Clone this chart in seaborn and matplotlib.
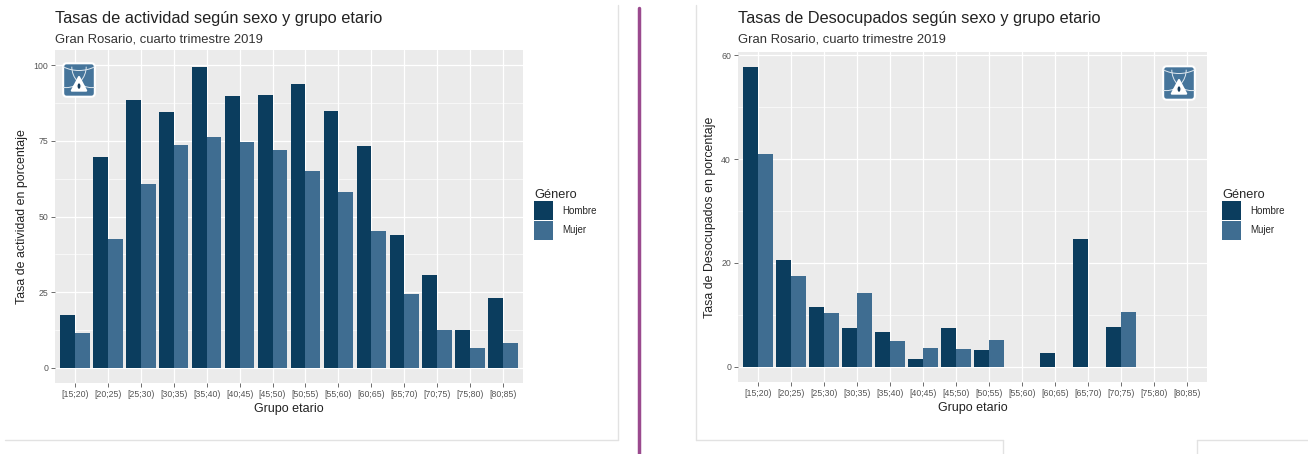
import numpy as np
import pandas as pd
import matplotlib.pyplot as plt
import seaborn as sns
from matplotlib.patches import Patch, FancyBboxPatch, Polygon, Ellipse, Arc
from matplotlib.lines import Line2D

# data
grupos = ['[15;20)', '[20;25)', '[25;30)', '[30;35)', '[35;40)', '[40;45)', '[45;50)',
          '[50;55)', '[55;60)', '[60;65)', '[65;70)', '[70;75)', '[75;80)', '[80;85)']
generos = ['Hombre', 'Mujer']

actividad_hombre = [17.5, 69.6, 88.4, 84.5, 99.3, 89.8, 90.1, 93.7, 84.8, 73.3, 43.9, 30.7, 12.5, 23.0]
actividad_mujer = [11.5, 42.6, 60.7, 73.6, 76.2, 74.6, 72.0, 65.0, 58.0, 45.2, 24.4, 12.5, 6.6, 8.2]

desocup_hombre = [57.7, 20.6, 11.5, 7.5, 6.7, 1.5, 7.5, 3.3, np.nan, 2.7, 24.6, 7.7, np.nan, np.nan]
desocup_mujer = [40.9, 17.5, 10.4, 14.2, 5.0, 3.7, 3.5, 5.2, np.nan, np.nan, np.nan, 10.6, np.nan, np.nan]

colores = {'Hombre': '#0b3d5e', 'Mujer': '#3f6d91'}

W, H = 1308, 454


def long_df(hombre, mujer):
    df = pd.DataFrame({
        'grupo': grupos * 2,
        'genero': ['Hombre'] * len(grupos) + ['Mujer'] * len(grupos),
        'tasa': list(hombre) + list(mujer),
    })
    return df.dropna()


def fx(px):
    return px / W


def fy(py):
    return 1 - py / H


def draw_logo(fig, x0, y0, w, h):
    # small square logo in the corner of each panel
    lax = fig.add_axes([fx(x0), fy(y0 + h), w / W, h / H])
    lax.set_xlim(0, 1)
    lax.set_ylim(0, 1)
    lax.axis('off')
    box = FancyBboxPatch((0.06, 0.06), 0.88, 0.88, boxstyle='round,pad=0,rounding_size=0.1',
                         facecolor='#46759b', edgecolor='white', lw=1.5)
    lax.add_patch(box)
    for cx in (0.15, 0.85):
        a = Arc((cx, 0.85), 1.1, 1.1, theta1=180, theta2=360, color='#dfe8ef', lw=0.7)
        a.set_clip_path(box)
        lax.add_patch(a)
    a = Arc((0.5, 1.35), 1.6, 1.2, theta1=200, theta2=340, color='#dfe8ef', lw=0.7)
    a.set_clip_path(box)
    lax.add_patch(a)
    lax.add_patch(Polygon([(0.3, 0.22), (0.7, 0.22), (0.5, 0.58)], closed=True,
                          facecolor='white', edgecolor='white', lw=1.5, joinstyle='round'))
    lax.add_patch(Ellipse((0.5, 0.34), 0.12, 0.18, facecolor='#163b5a'))


def panel(fig, rect, df, ylim, yticks, yminor, ylabel, title, subtitle, leg_xy, logo_xy):
    x0, y0, x1, y1 = rect
    ax = fig.add_axes([fx(x0), fy(y1), (x1 - x0) / W, (y1 - y0) / H])
    sns.barplot(data=df, x='grupo', y='tasa', hue='genero', order=grupos, hue_order=generos,
                palette=colores, width=0.9, errorbar=None, legend=False, ax=ax,
                saturation=1, linewidth=0)
    ax.set_facecolor('#ebebeb')
    ax.set_axisbelow(True)
    for s in ax.spines.values():
        s.set_visible(False)
    ax.set_xlim(-0.6, len(grupos) - 0.4)
    ax.set_ylim(*ylim)
    ax.set_yticks(yticks)
    ax.set_yticks(yminor, minor=True)
    ax.grid(which='major', color='white', lw=0.9)
    ax.grid(which='minor', axis='y', color='white', lw=0.45)
    ax.tick_params(which='major', bottom=True, left=True, length=3, width=0.6, color='#555555',
                   labelsize=6.3, labelcolor='#555555', pad=2)
    ax.tick_params(which='minor', length=0)
    ax.set_xlabel('Grupo etario', fontsize=9, color='#222222', labelpad=3)
    ax.set_ylabel(ylabel, fontsize=8.9, color='#222222', labelpad=4)

    fig.text(fx(x0), fy(18), title, fontsize=11.8, color='#222222', va='center', ha='left')
    fig.text(fx(x0), fy(39), subtitle, fontsize=9.4, color='#333333', va='center', ha='left')

    handles = [Patch(facecolor=colores[g], edgecolor='none', label=g) for g in generos]
    leg = fig.legend(handles=handles, title='Género', loc='upper left',
                     bbox_to_anchor=(fx(leg_xy[0]), fy(leg_xy[1])), frameon=False,
                     fontsize=7, title_fontsize=9.2, handlelength=2.0, handleheight=2.6,
                     labelspacing=0.05, handletextpad=0.9, borderpad=0, borderaxespad=0)
    leg._legend_box.align = 'left'
    draw_logo(fig, logo_xy[0], logo_xy[1], 36, 38)
    return ax


sns.set_theme(style='white')
plt.rcParams['font.family'] = ['Liberation Sans', 'DejaVu Sans']

fig = plt.figure(figsize=(W / 100, H / 100), dpi=100)
fig.patch.set_facecolor('white')

panel(fig, (55, 50, 523, 383), long_df(actividad_hombre, actividad_mujer),
      (-5, 105), [0, 25, 50, 75, 100], [12.5, 37.5, 62.5, 87.5],
      'Tasa de actividad en porcentaje',
      'Tasas de actividad según sexo y grupo etario', 'Gran Rosario, cuarto trimestre 2019',
      (534, 189), (61, 61))

panel(fig, (738, 52, 1207, 382), long_df(desocup_hombre, desocup_mujer),
      (-2.9, 60.6), [0, 20, 40, 60], [10, 30, 50],
      'Tasa de Desocupados en porcentaje',
      'Tasas de Desocupados según sexo y grupo etario', 'Gran Rosario, cuarto trimestre 2019',
      (1222, 189), (1161, 64))

# card outlines and the divider
gris = '#e2e2e2'
segs = [((5, 440), (618, 440)), ((618, 5), (618, 440)),
        ((696, 5), (696, 440)), ((696, 440), (1003, 440)), ((1003, 440), (1003, 454)),
        ((1197, 440), (1308, 440)), ((1197, 440), (1197, 454))]
for (xa, ya), (xb, yb) in segs:
    fig.add_artist(Line2D([fx(xa), fx(xb)], [fy(ya), fy(yb)], transform=fig.transFigure,
                          color=gris, lw=1))
fig.add_artist(Line2D([fx(639), fx(639)], [fy(8), fy(454)], transform=fig.transFigure,
                      color='#9a4a8e', lw=2.5))

fig.savefig('out.png', dpi=100)
